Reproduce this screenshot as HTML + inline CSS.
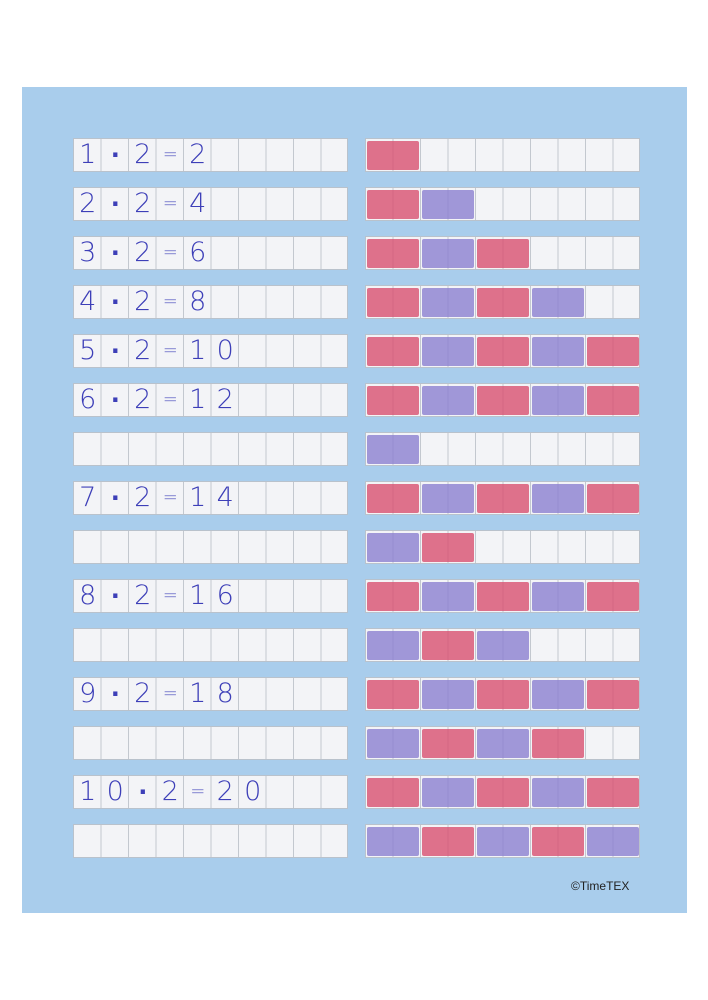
<!DOCTYPE html>
<html><head><meta charset="utf-8"><style>
body{margin:0;width:708px;height:1000px;background:#fff;position:relative;overflow:hidden;font-family:"Liberation Sans",sans-serif}
#pg{position:absolute;left:22px;top:87px;width:665px;height:826px;background:#a9cdec}
.row{position:absolute;height:34px;width:275px;background-color:#f3f4f7;border:1px solid #b9c2cc;box-sizing:border-box;
background-image:repeating-linear-gradient(90deg,transparent 0,transparent 26.5px,#c3c8cf 26.5px,#c3c8cf 27.5px);display:flex}
.row span{width:27.5px;text-align:center;font-size:27px;line-height:32px;color:#3d3fb8;font-family:"DejaVu Sans",sans-serif;font-weight:300}
.row span.d{font-weight:bold;font-size:24px}
.row span.e{font-size:18px}
.L{left:73px}.R{left:365px}
.b{position:absolute;top:2px;height:29px;width:52px;border-radius:2px;opacity:.8}
.r{background:#d8506f}.p{background:#8b80cf}
#c{position:absolute;left:571px;top:879px;font-size:12px;color:#222}
</style></head><body>
<div id="pg"></div>
<div class="row L" style="top:138px"><span>1</span><span class="d">·</span><span>2</span><span class="e">=</span><span>2</span></div>
<div class="row L" style="top:187px"><span>2</span><span class="d">·</span><span>2</span><span class="e">=</span><span>4</span></div>
<div class="row L" style="top:236px"><span>3</span><span class="d">·</span><span>2</span><span class="e">=</span><span>6</span></div>
<div class="row L" style="top:285px"><span>4</span><span class="d">·</span><span>2</span><span class="e">=</span><span>8</span></div>
<div class="row L" style="top:334px"><span>5</span><span class="d">·</span><span>2</span><span class="e">=</span><span>1</span><span>0</span></div>
<div class="row L" style="top:383px"><span>6</span><span class="d">·</span><span>2</span><span class="e">=</span><span>1</span><span>2</span></div>
<div class="row L" style="top:432px"></div>
<div class="row L" style="top:481px"><span>7</span><span class="d">·</span><span>2</span><span class="e">=</span><span>1</span><span>4</span></div>
<div class="row L" style="top:530px"></div>
<div class="row L" style="top:579px"><span>8</span><span class="d">·</span><span>2</span><span class="e">=</span><span>1</span><span>6</span></div>
<div class="row L" style="top:628px"></div>
<div class="row L" style="top:677px"><span>9</span><span class="d">·</span><span>2</span><span class="e">=</span><span>1</span><span>8</span></div>
<div class="row L" style="top:726px"></div>
<div class="row L" style="top:775px"><span>1</span><span>0</span><span class="d">·</span><span>2</span><span class="e">=</span><span>2</span><span>0</span></div>
<div class="row L" style="top:824px"></div>

<div class="row R" style="top:138px"><i class="b r" style="left:1px"></i></div>
<div class="row R" style="top:187px"><i class="b r" style="left:1px"></i><i class="b p" style="left:56px"></i></div>
<div class="row R" style="top:236px"><i class="b r" style="left:1px"></i><i class="b p" style="left:56px"></i><i class="b r" style="left:111px"></i></div>
<div class="row R" style="top:285px"><i class="b r" style="left:1px"></i><i class="b p" style="left:56px"></i><i class="b r" style="left:111px"></i><i class="b p" style="left:166px"></i></div>
<div class="row R" style="top:334px"><i class="b r" style="left:1px"></i><i class="b p" style="left:56px"></i><i class="b r" style="left:111px"></i><i class="b p" style="left:166px"></i><i class="b r" style="left:221px"></i></div>
<div class="row R" style="top:383px"><i class="b r" style="left:1px"></i><i class="b p" style="left:56px"></i><i class="b r" style="left:111px"></i><i class="b p" style="left:166px"></i><i class="b r" style="left:221px"></i></div>
<div class="row R" style="top:432px"><i class="b p" style="left:1px"></i></div>
<div class="row R" style="top:481px"><i class="b r" style="left:1px"></i><i class="b p" style="left:56px"></i><i class="b r" style="left:111px"></i><i class="b p" style="left:166px"></i><i class="b r" style="left:221px"></i></div>
<div class="row R" style="top:530px"><i class="b p" style="left:1px"></i><i class="b r" style="left:56px"></i></div>
<div class="row R" style="top:579px"><i class="b r" style="left:1px"></i><i class="b p" style="left:56px"></i><i class="b r" style="left:111px"></i><i class="b p" style="left:166px"></i><i class="b r" style="left:221px"></i></div>
<div class="row R" style="top:628px"><i class="b p" style="left:1px"></i><i class="b r" style="left:56px"></i><i class="b p" style="left:111px"></i></div>
<div class="row R" style="top:677px"><i class="b r" style="left:1px"></i><i class="b p" style="left:56px"></i><i class="b r" style="left:111px"></i><i class="b p" style="left:166px"></i><i class="b r" style="left:221px"></i></div>
<div class="row R" style="top:726px"><i class="b p" style="left:1px"></i><i class="b r" style="left:56px"></i><i class="b p" style="left:111px"></i><i class="b r" style="left:166px"></i></div>
<div class="row R" style="top:775px"><i class="b r" style="left:1px"></i><i class="b p" style="left:56px"></i><i class="b r" style="left:111px"></i><i class="b p" style="left:166px"></i><i class="b r" style="left:221px"></i></div>
<div class="row R" style="top:824px"><i class="b p" style="left:1px"></i><i class="b r" style="left:56px"></i><i class="b p" style="left:111px"></i><i class="b r" style="left:166px"></i><i class="b p" style="left:221px"></i></div>
<div id="c">©TimeTEX</div>
</body></html>
